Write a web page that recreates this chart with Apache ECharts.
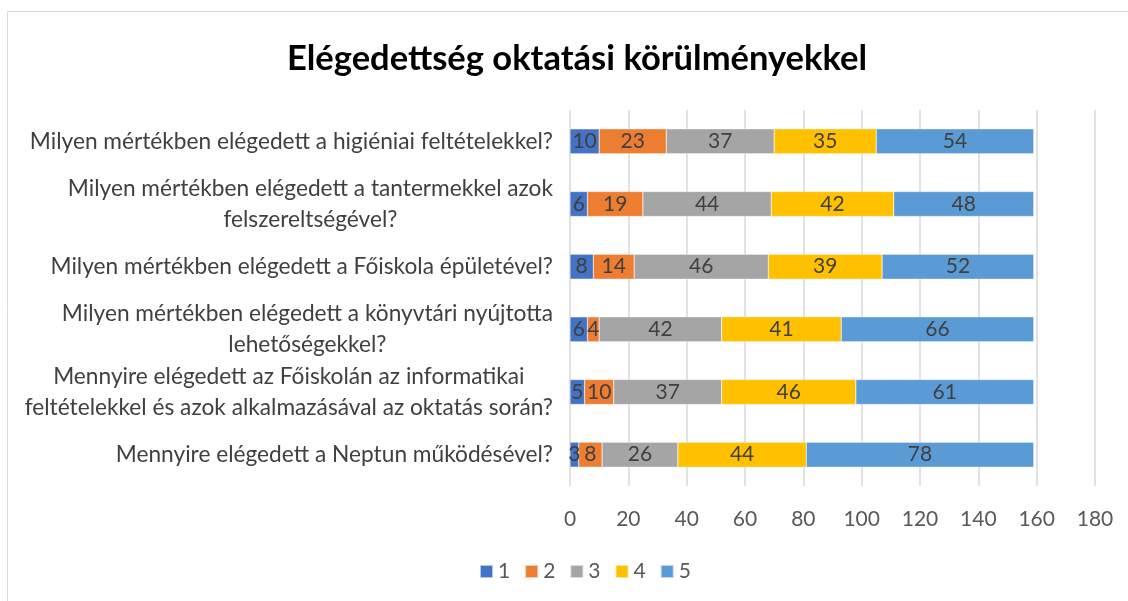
<!DOCTYPE html>
<html>
<head>
<meta charset="utf-8">
<script src="https://cdn.jsdelivr.net/npm/echarts@6/dist/echarts.min.js"></script>
<style>
html,body{margin:0;padding:0;background:#fff;}
#chart{width:1128px;height:601px;}
</style>
</head>
<body>
<div id="chart"></div>
<script>
const categories = [
  "Milyen mértékben elégedett a higiéniai feltételekkel?",
  "Milyen mértékben elégedett a tantermekkel azok\nfelszereltségével?",
  "Milyen mértékben elégedett a Főiskola épületével?",
  "Milyen mértékben elégedett a könyvtári nyújtotta\nlehetőségekkel?",
  "Mennyire elégedett az Főiskolán az informatikai\nfeltételekkel és azok alkalmazásával az oktatás során?",
  "Mennyire elégedett a Neptun működésével?"
];
const seriesNames = ["1", "2", "3", "4", "5"];
const s1 = [10, 6, 8, 6, 5, 3];
const s2 = [23, 19, 14, 4, 10, 8];
const s3 = [37, 44, 46, 42, 37, 26];
const s4 = [35, 42, 39, 41, 46, 44];
const s5 = [54, 48, 52, 66, 61, 78];
const xTicks = { min: 0, max: 180, interval: 20 };

const colors = ["#4472C4", "#ED7D31", "#A5A5A5", "#FFC000", "#5B9BD5"];
const FONT = "Lato, 'Open Sans', sans-serif";
const allData = [s1, s2, s3, s4, s5];

const chart = echarts.init(document.getElementById('chart'));
chart.setOption({
  animation: false,
  color: colors,
  title: {
    text: "Elégedettség oktatási körülményekkel",
    left: 282,
    top: 36,
    textStyle: { fontFamily: FONT, fontWeight: 'bold', fontSize: 34.5, color: '#000' }
  },
  graphic: [{
    type: 'rect',
    shape: { x: 7.5, y: 11.5, width: 1200, height: 700 },
    style: { fill: 'none', stroke: '#d9d9d9', lineWidth: 1 },
    silent: true
  }],
  legend: {
    data: seriesNames,
    bottom: 14,
    left: 474,
    icon: 'rect',
    itemWidth: 13,
    itemHeight: 13,
    itemGap: 14,
    textStyle: { fontFamily: FONT, fontSize: 21, color: '#595959' }
  },
  grid: { left: 570, right: 33, top: 110, bottom: 115, containLabel: false },
  xAxis: {
    type: 'value',
    min: xTicks.min, max: xTicks.max, interval: xTicks.interval,
    axisLine: { show: false },
    axisTick: { show: false },
    axisLabel: { fontFamily: FONT, fontSize: 21, color: '#595959', margin: 23 },
    splitLine: { show: true, lineStyle: { color: '#d9d9d9', width: 1.5 } }
  },
  yAxis: {
    type: 'category',
    inverse: true,
    data: categories,
    axisLine: { show: false },
    axisTick: { show: false },
    axisLabel: {
      margin: 17,
      align: 'right',
      formatter: function (v) {
        return v.split('\n').map(l => '{c|' + l + '}').join('\n');
      },
      rich: {
        c: { align: 'center', fontFamily: FONT, fontSize: 22.7, color: '#404040', lineHeight: 31 }
      }
    }
  },
  series: seriesNames.map((n, i) => ({
    name: n,
    type: 'bar',
    stack: 'total',
    data: allData[i],
    barWidth: 25,
    itemStyle: { color: colors[i], borderColor: 'rgba(255,255,255,0.6)', borderWidth: 0.5 },
    label: {
      show: true,
      position: 'inside',
      fontFamily: FONT,
      fontSize: 21,
      color: '#404040'
    }
  }))
});
</script>
</body>
</html>
